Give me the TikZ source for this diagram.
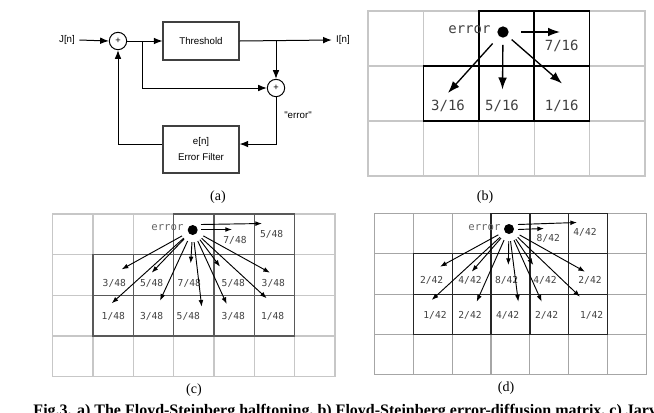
\documentclass[tikz,border=0pt]{standalone}
\usepackage{fontspec}
\setmainfont{Liberation Serif}
\newfontfamily\arialf{Liberation Sans}
\newfontfamily\monof{DejaVu Sans Mono}
\usetikzlibrary{arrows.meta}
\begin{document}
\begin{tikzpicture}[x=0.75pt,y=-0.75pt,
 line width=0.75pt,
 blk/.style={draw=black!75, line width=0.8pt, minimum width=57pt, minimum height=28.5pt, font=\arialf\fontsize{7.3}{9}\selectfont, align=center, inner sep=1pt},
 sumc/.style={draw, circle, minimum size=13pt, inner sep=0pt, font=\arialf\fontsize{7}{8}\selectfont},
 sig/.style={font=\arialf\fontsize{7.3}{9}\selectfont, inner sep=3pt},
 aarr/.style={-{Latex[length=6.5pt,width=5pt]}, line width=0.75pt},
 gridl/.style={draw=black!22, line width=0.8pt},
 griddb/.style={draw=black, line width=1.2pt},
 griddc/.style={draw=black!65, line width=0.9pt},
 lbl/.style={font=\monof\fontsize{10.5}{12}\selectfont, text=black!75, inner sep=0pt},
 slbl/.style={font=\monof\fontsize{7.2}{8}\selectfont, text=black!75, inner sep=0pt},
 elbl/.style={font=\monof\fontsize{8}{9}\selectfont, text=black!60, inner sep=0pt, anchor=east},
 dotn/.style={circle, fill=black, inner sep=0pt},
 barr/.style={-{Latex[length=9pt,width=6.5pt]}, line width=1pt, shorten <=6pt},
 sarr/.style={-{Latex[length=5pt,width=3.6pt]}, line width=0.7pt, shorten <=5pt},
 sarrf/.style={-{Latex[length=5pt,width=3.6pt]}, line width=0.7pt},
 subcap/.style={font=\fontsize{10.5}{12}\selectfont, inner sep=0pt}
]
\useasboundingbox (0,0) rectangle (654,412);
\clip (0,0) rectangle (654,412);

% ---------------- (a) ----------------
\node[sig] (jn) at (67,40) {J[n]};
\node[sumc] (s1) at (118,41) {+};
\node[blk] (thr) at (201,41) {Threshold};
\node[sig] (out) at (343,40) {I[n]};
\node[sumc] (s2) at (276,88) {+};
\node[blk, minimum height=35.25pt] (ef) at (201,149.5) {e[n]\\[3pt]Error Filter};
\node[sig] (errl) at (298,115) {"error"};
\coordinate (b1) at (142,41);
\coordinate (b2) at (276,41);
\draw[aarr] (jn.east) -- (s1.west);
\draw[aarr] (s1.east) -- (thr.west);
\draw[aarr] (thr.east) -- (out.west);
\draw[aarr] (b2) -- (s2.north);
\draw[aarr] (b1) |- (s2.west);
\draw[aarr] (s2.south) |- ([yshift=4.1pt]ef.east);
\draw[aarr] ([yshift=4.1pt]ef.west) -| (s1.south);
\node[subcap] (capa) at (218,197) {(a)};

% ---------------- (b) ----------------
\foreach \i in {0,...,4} \foreach \j in {0,...,2}
  \draw[gridl] (368+\i*55.4, 11+\j*55) rectangle ++(55.4,55);
\foreach \i/\j in {2/0,3/0,1/1,2/1,3/1}
  \draw[griddb] (368+\i*55.4, 11+\j*55) rectangle ++(55.4,55);
\node[dotn, minimum size=8.5pt] (dotb) at (503,32) {};
\node[lbl, anchor=east] (errb) at (491,29.5) {error};
\node[lbl] (lb7) at (561.7,46) {7/16};
\node[lbl] (lb3) at (448,106) {3/16};
\node[lbl] (lb5) at (502,106) {5/16};
\node[lbl] (lb1) at (561.7,106) {1/16};
\coordinate (tb7) at (560,32);
\coordinate (tb3) at (448,93);
\coordinate (tb5) at (502.5,89.5);
\coordinate (tb1) at (562,83.5);
\draw[barr, shorten <=9pt] (dotb) -- (tb7);
\draw[barr, shorten <=7pt] (dotb) -- (tb3);
\draw[barr, shorten <=5pt] (dotb) -- (tb5);
\draw[barr, shorten <=4pt] (dotb) -- (tb1);
\node[subcap] (capb) at (485,197) {(b)};

% ---------------- (c) ----------------
\foreach \i in {0,...,6} \foreach \j in {0,...,3}
  \draw[gridl] (52.7+\i*40.33, 214+\j*40.67) rectangle ++(40.33,40.67);
\foreach \i/\j in {3/0,4/0,5/0,1/1,2/1,3/1,4/1,5/1,1/2,2/2,3/2,4/2,5/2}
  \draw[griddc] (52.7+\i*40.33, 214+\j*40.67) rectangle ++(40.33,40.67);
\node[dotn, minimum size=7.5pt] (dotc) at (192.7,230) {};
\node[elbl] (errc) at (184,228) {error};
\foreach \n/\x/\y/\t in {a/235/240.7/7\slash48, b/271.7/234.3/5\slash48,
  c/114.3/283.3/3\slash48, d/151.7/283.3/5\slash48, e/189.3/283.3/7\slash48, f/233.3/283.3/5\slash48, g/273.3/283.3/3\slash48,
  h/113.3/316/1\slash48, i/151.7/316/3\slash48, j/188.3/316/5\slash48, k/233.3/316/3\slash48, l/272.7/316/1\slash48}
  \node[slbl] (lc\n) at (\x,\y) {\t};
\coordinate (csu) at (201,224.5);
\coordinate (ceu) at (262,223.5);
\coordinate (csl) at (201,229.5);
\coordinate (cel) at (232,229.5);
\draw[sarrf] (csu) -- (ceu);
\draw[sarrf] (csl) -- (cel);
\foreach \n/\x/\y in {1/121.7/269.3, 2/151.7/272.7, 3/190.7/263.3, 4/220/266.7, 5/270/272.7,
  6/111.7/303.3, 7/160/300.7, 8/201.7/306.7, 9/226.7/304, 10/266.7/298.3}
  {\coordinate (tc\n) at (\x,\y);
   \draw[sarr] (dotc) -- (tc\n);}
\node[subcap] (capc) at (194,390) {(c)};

% ---------------- (d) ----------------
\foreach \i in {0,...,6} \foreach \j in {0,...,3}
  \draw[gridl, draw=black!35] (374.3+\i*38.9, 213.3+\j*40.4) rectangle ++(38.9,40.4);
\foreach \i/\j in {3/0,4/0,5/0,1/1,2/1,3/1,4/1,5/1,1/2,2/2,3/2,4/2,5/2}
  \draw[griddc, draw=black!85] (374.3+\i*38.9, 213.3+\j*40.4) rectangle ++(38.9,40.4);
\node[dotn, minimum size=7.5pt] (dotd) at (509,229) {};
\node[elbl] (errd) at (501,228) {error};
\foreach \n/\x/\y/\t in {a/548.3/238.3/8\slash42, b/585/232.3/4\slash42,
  c/431.7/280/2\slash42, d/470/280/4\slash42, e/506.7/280/8\slash42, f/545/280/4\slash42, g/590/280/2\slash42,
  h/435/315/1\slash42, i/470/315/2\slash42, j/507.7/315/4\slash42, k/546.7/315/2\slash42, l/591.7/315/1\slash42}
  \node[slbl] (ld\n) at (\x,\y) {\t};
\coordinate (dsu) at (518,224.5);
\coordinate (deu) at (577,222.5);
\coordinate (dsl) at (518,229.5);
\coordinate (del) at (544,228.5);
\draw[sarrf] (dsu) -- (deu);
\draw[sarrf] (dsl) -- (del);
\foreach \n/\x/\y in {1/440/266.7, 2/471.7/271.7, 3/508.3/265, 4/533.3/265, 5/585/271.7,
  6/431.7/300, 7/476.7/301.7, 8/518.3/301.7, 9/541.7/301.7, 10/580/296.7}
  {\coordinate (td\n) at (\x,\y);
   \draw[sarr] (dotd) -- (td\n);}
\node[subcap] (capd) at (506,388) {(d)};

% ---------------- caption ----------------
\node[font=\bfseries\fontsize{12}{14}\selectfont, anchor=base west, inner sep=0pt] (figcap) at (33,415)
  {Fig.3. a) The Floyd-Steinberg halftoning, b) Floyd-Steinberg error-diffusion matrix, c) Jarv};
\end{tikzpicture}
\end{document}
